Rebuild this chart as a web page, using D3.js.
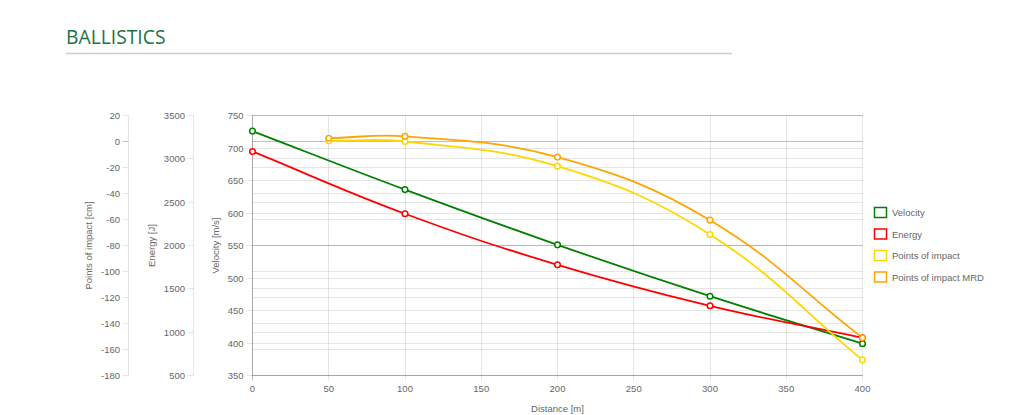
<!DOCTYPE html>
<html>
<head>
<meta charset="utf-8">
<script src="https://cdn.jsdelivr.net/npm/d3@7"></script>
<style>
  html, body { margin: 0; padding: 0; background: #fff; }
  svg { display: block; }
  .tick-label, .axis-title, .legend-text { font-family: "Liberation Sans", Arial, Helvetica, sans-serif; font-size: 9.5px; fill: #666; }
</style>
</head>
<body>
<svg id="chart" width="1024" height="415"></svg>
<script>
// ---- data ----
const distances = [0, 100, 200, 300, 400];
const velocity = [726, 636, 551, 472, 399];
const energy = [3085, 2366, 1777, 1304, 935];
const poiDistances = [50, 100, 200, 300, 400];
const pointsOfImpact = [0.5, 0, -19, -71.5, -168];
const pointsOfImpactMRD = [2.5, 4, -12, -60.5, -151];

const xTicks = [0, 50, 100, 150, 200, 250, 300, 350, 400];
const velocityTicks = [350, 400, 450, 500, 550, 600, 650, 700, 750];
const energyTicks = [500, 1000, 1500, 2000, 2500, 3000, 3500];
const poiTicks = [20, 0, -20, -40, -60, -80, -100, -120, -140, -160, -180];

const seriesNames = ["Velocity", "Energy", "Points of impact", "Points of impact MRD"];
const seriesColors = ["#008000", "#ff0000", "#ffd700", "#ffa500"];

// ---- layout ----
const svg = d3.select("#chart");
const area = { left: 252.5, right: 862.5, top: 115.5, bottom: 375.5 };

const x = d3.scaleLinear().domain([0, 400]).range([area.left, area.right]);
const yV = d3.scaleLinear().domain([350, 750]).range([area.bottom, area.top]);
const yE = d3.scaleLinear().domain([500, 3500]).range([area.bottom, area.top]);
const yP = d3.scaleLinear().domain([-180, 20]).range([area.bottom, area.top]);

const gridColor = "rgba(0,0,0,0.1)";
const zeroColor = "rgba(0,0,0,0.25)";

// ---- title ----
svg.append("text")
  .attr("x", 66).attr("y", 43.5)
  .attr("font-family", "'Open Sans', sans-serif")
  .attr("font-size", 19.3)
  .attr("fill", "#1b7446")
  .text("BALLISTICS");
svg.append("line")
  .attr("x1", 66).attr("x2", 732).attr("y1", 53.5).attr("y2", 53.5)
  .attr("stroke", "#cccccc").attr("stroke-width", 1.3);

// ---- y axes (gridlines across chart area + tick marks at axis) ----
function yAxis(scale, ticks, axisX, labelX, titleX, title) {
  const g = svg.append("g");
  g.append("line")
    .attr("x1", axisX).attr("x2", axisX)
    .attr("y1", area.top).attr("y2", area.bottom)
    .attr("stroke", gridColor);
  ticks.forEach(t => {
    const yy = Math.round(scale(t) - 0.5) + 0.5;
    const c = t === 0 ? zeroColor : gridColor;
    g.append("line").attr("x1", axisX - 6).attr("x2", axisX)
      .attr("y1", yy).attr("y2", yy).attr("stroke", c);
    g.append("line").attr("x1", area.left).attr("x2", area.right)
      .attr("y1", yy).attr("y2", yy).attr("stroke", c);
    g.append("text").attr("class", "tick-label")
      .attr("x", labelX).attr("y", scale(t))
      .attr("text-anchor", "end").attr("dominant-baseline", "central")
      .text(t);
  });
  g.append("text").attr("class", "axis-title")
    .attr("transform", `translate(${titleX},${(area.top + area.bottom) / 2}) rotate(-90)`)
    .attr("text-anchor", "middle").attr("dominant-baseline", "central")
    .text(title);
}
yAxis(yP, poiTicks, 128.5, 120, 88, "Points of impact [cm]");
yAxis(yE, energyTicks, 193.5, 185, 151, "Energy [J]");
yAxis(yV, velocityTicks, 252.5, 243.5, 215, "Velocity [m/s]");

// ---- x axis ----
const gx = svg.append("g");
xTicks.forEach(t => {
  const xx = Math.round(x(t) - 0.5) + 0.5;
  const c = t === 0 ? zeroColor : gridColor;
  gx.append("line").attr("x1", xx).attr("x2", xx)
    .attr("y1", area.top).attr("y2", area.bottom + 5).attr("stroke", c);
  gx.append("text").attr("class", "tick-label")
    .attr("x", x(t)).attr("y", 388)
    .attr("text-anchor", "middle").attr("dominant-baseline", "central")
    .text(t);
});
gx.append("line").attr("x1", area.left).attr("x2", area.right)
  .attr("y1", area.bottom).attr("y2", area.bottom).attr("stroke", gridColor);
gx.append("text").attr("class", "axis-title")
  .attr("x", (area.left + area.right) / 2).attr("y", 408)
  .attr("text-anchor", "middle").attr("dominant-baseline", "central")
  .text("Distance [m]");

// ---- Chart.js-style spline (tension 0.4) ----
function splinePath(pts, tension) {
  const n = pts.length;
  const cps = pts.map((cur, i) => {
    const prev = pts[Math.max(0, i - 1)];
    const next = pts[Math.min(n - 1, i + 1)];
    const d01 = Math.hypot(cur[0] - prev[0], cur[1] - prev[1]);
    const d12 = Math.hypot(next[0] - cur[0], next[1] - cur[1]);
    let s01 = d01 / (d01 + d12), s12 = d12 / (d01 + d12);
    if (!isFinite(s01)) s01 = 0;
    if (!isFinite(s12)) s12 = 0;
    const fa = tension * s01, fb = tension * s12;
    const cap = (p) => [
      Math.min(Math.max(p[0], area.left), area.right),
      Math.min(Math.max(p[1], area.top), area.bottom)
    ];
    return {
      prev: cap([cur[0] - fa * (next[0] - prev[0]), cur[1] - fa * (next[1] - prev[1])]),
      next: cap([cur[0] + fb * (next[0] - prev[0]), cur[1] + fb * (next[1] - prev[1])])
    };
  });
  const p = d3.path();
  p.moveTo(pts[0][0], pts[0][1]);
  for (let i = 1; i < n; i++) {
    p.bezierCurveTo(cps[i - 1].next[0], cps[i - 1].next[1], cps[i].prev[0], cps[i].prev[1], pts[i][0], pts[i][1]);
  }
  return p.toString();
}

const series = [
  { xs: distances, ys: velocity, scale: yV },
  { xs: distances, ys: energy, scale: yE },
  { xs: poiDistances, ys: pointsOfImpact, scale: yP },
  { xs: poiDistances, ys: pointsOfImpactMRD, scale: yP }
];

const gLines = svg.append("g");
series.forEach((s, i) => {
  const pts = s.xs.map((d, k) => [x(d), s.scale(s.ys[k])]);
  gLines.append("path")
    .attr("d", splinePath(pts, 0.4))
    .attr("fill", "none")
    .attr("stroke", seriesColors[i])
    .attr("stroke-width", 1.8);
});
series.forEach((s, i) => {
  s.xs.forEach((d, k) => {
    gLines.append("circle")
      .attr("cx", x(d)).attr("cy", s.scale(s.ys[k]))
      .attr("r", 2.8)
      .attr("fill", "#fff")
      .attr("stroke", seriesColors[i])
      .attr("stroke-width", 1.5);
  });
});

// ---- legend ----
const legendY = [207.5, 229, 250.5, 272];
const gl = svg.append("g");
seriesNames.forEach((name, i) => {
  gl.append("rect")
    .attr("x", 874.5).attr("y", legendY[i])
    .attr("width", 12).attr("height", 10)
    .attr("fill", "#fff")
    .attr("stroke", seriesColors[i]).attr("stroke-width", 1.5);
  gl.append("text").attr("class", "legend-text")
    .attr("x", 892).attr("y", legendY[i] + 5)
    .attr("dominant-baseline", "central")
    .text(name);
});
</script>
</body>
</html>
